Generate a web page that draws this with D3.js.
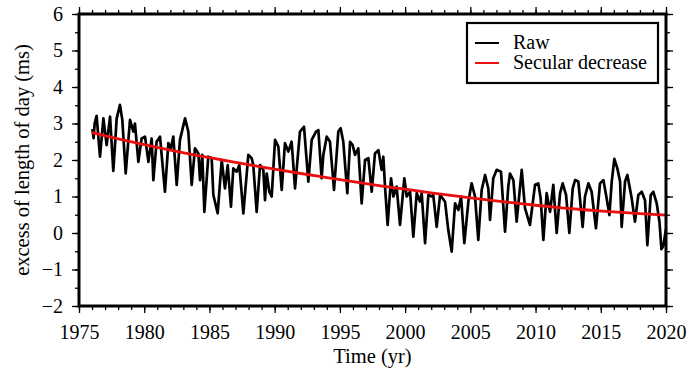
<!DOCTYPE html>
<html>
<head>
<meta charset="utf-8">
<script src="https://cdn.jsdelivr.net/npm/d3@7"></script>
<style>
  body { margin: 0; background: #fff; }
  svg text { font-family: "Liberation Serif", "Times New Roman", serif; }
</style>
</head>
<body>
<script>
//Width and height
var w = 692;
var h = 377;
var margin = {top: 14, right: 26, bottom: 71, left: 79};

//Raw excess LOD (ms)
var rawYear = [
  1976.02, 1976.12, 1976.20, 1976.35, 1976.61, 1976.87, 1977.12, 1977.38, 1977.63, 1977.89,
  1978.14, 1978.32, 1978.58, 1978.91, 1979.17, 1979.29, 1979.55, 1979.80, 1980.06, 1980.32,
  1980.57, 1980.70, 1980.95, 1981.21, 1981.59, 1981.85, 1982.05, 1982.23, 1982.49, 1982.74,
  1983.13, 1983.38, 1983.64, 1983.89, 1984.15, 1984.28, 1984.45, 1984.61, 1984.91, 1985.17,
  1985.30, 1985.63, 1985.94, 1986.19, 1986.40, 1986.65, 1986.83, 1987.09, 1987.29, 1987.60,
  1987.98, 1988.24, 1988.36, 1988.62, 1988.88, 1989.13, 1989.26, 1989.39, 1989.59, 1989.77,
  1990.03, 1990.28, 1990.54, 1990.79, 1991.05, 1991.30, 1991.56, 1991.94, 1992.25, 1992.58,
  1992.84, 1993.17, 1993.35, 1993.60, 1993.73, 1993.99, 1994.24, 1994.55, 1994.88, 1995.06,
  1995.26, 1995.57, 1995.78, 1995.98, 1996.16, 1996.41, 1996.67, 1996.93, 1997.18, 1997.44,
  1997.69, 1997.95, 1998.20, 1998.33, 1998.46, 1998.66, 1998.92, 1999.10, 1999.35, 1999.61,
  1999.94, 2000.12, 2000.38, 2000.63, 2000.89, 2001.14, 2001.27, 2001.53, 2001.78, 2002.04,
  2002.16, 2002.42, 2002.68, 2003.06, 2003.31, 2003.57, 2003.83, 2004.08, 2004.29, 2004.54,
  2004.85, 2005.10, 2005.36, 2005.61, 2005.87, 2006.13, 2006.38, 2006.51, 2006.76, 2007.02,
  2007.35, 2007.66, 2007.91, 2008.04, 2008.30, 2008.55, 2008.94, 2009.19, 2009.57, 2009.96,
  2010.21, 2010.39, 2010.60, 2010.85, 2011.11, 2011.36, 2011.62, 2011.88, 2012.08, 2012.34,
  2012.59, 2012.85, 2013.03, 2013.28, 2013.61, 2013.79, 2014.05, 2014.30, 2014.63, 2014.94,
  2015.20, 2015.45, 2015.66, 2015.84, 2016.04, 2016.27, 2016.48, 2016.60, 2016.86, 2017.04,
  2017.37, 2017.62, 2017.88, 2018.14, 2018.39, 2018.57, 2018.83, 2019.03, 2019.29, 2019.50,
  2019.65, 2019.80, 2019.99
];
var rawLod = [
  2.85, 2.60, 3.00, 3.21, 2.09, 3.14, 2.41, 3.19, 1.70, 3.14,
  3.51, 3.10, 1.63, 3.10, 2.78, 3.00, 1.95, 2.59, 2.64, 1.95,
  2.59, 1.45, 2.50, 2.64, 1.13, 2.46, 2.32, 2.64, 1.32, 2.55,
  3.14, 2.78, 1.32, 2.32, 2.18, 1.45, 2.14, 0.58, 2.09, 2.05,
  1.04, 0.54, 2.00, 1.22, 1.86, 0.72, 1.77, 1.68, 1.86, 0.54,
  2.14, 2.05, 1.86, 0.58, 1.86, 1.73, 0.90, 1.63, 1.13, 1.00,
  2.55, 2.37, 1.18, 2.46, 2.23, 2.50, 1.22, 2.78, 2.91, 1.41,
  2.55, 2.78, 2.82, 1.50, 2.14, 2.64, 2.50, 1.18, 2.78, 2.87,
  2.50, 1.09, 2.50, 2.41, 2.14, 2.32, 0.81, 2.00, 2.05, 1.13,
  2.18, 2.27, 1.73, 2.09, 1.27, 0.22, 1.50, 1.00, 1.27, 0.22,
  1.50, 1.00, 1.13, -0.10, 1.09, 0.86, 1.09, -0.28, 1.04, 1.00,
  1.04, 0.17, 1.04, 0.86, 0.08, -0.51, 0.81, 0.63, 1.00, -0.28,
  0.86, 1.36, 1.00, -0.19, 1.18, 1.59, 1.22, 0.36, 1.50, 1.73,
  1.68, 0.04, 1.27, 1.63, 1.45, 0.31, 1.73, 0.68, 0.22, 1.32,
  1.36, 0.95, -0.19, 1.09, 0.58, 1.32, 0.00, 1.09, 1.36, 1.04,
  0.00, 1.22, 1.45, 1.41, 0.17, 1.00, 1.36, 1.13, 0.13, 1.36,
  1.45, 0.95, 0.49, 1.41, 2.03, 1.77, 1.41, 0.17, 1.41, 1.59,
  0.95, 0.31, 1.04, 1.13, 0.90, -0.33, 1.04, 1.13, 0.81, 0.30,
  -0.44, -0.35, 0.10
];

//Secular decrease curve
var secYear = [1976, 1978, 1980, 1982, 1984, 1986, 1988, 1990, 1992, 1994, 1996, 1998,
               2000, 2002, 2004, 2006, 2008, 2010, 2012, 2014, 2016, 2018, 2020];
var secLod  = [2.75, 2.58, 2.42, 2.27, 2.13, 2.00, 1.87, 1.75, 1.63, 1.52, 1.41, 1.30,
               1.20, 1.10, 1.01, 0.92, 0.84, 0.76, 0.69, 0.63, 0.58, 0.53, 0.49];

//Tick values
var xMajor = [1975, 1980, 1985, 1990, 1995, 2000, 2005, 2010, 2015, 2020];
var yMajor = [-2, -1, 0, 1, 2, 3, 4, 5, 6];

var legendNames = ["Raw", "Secular decrease"];
var legendColors = ["black", "#e8100f"];

var raw = rawYear.map(function(t, i) { return {t: t, v: rawLod[i]}; });
var sec = secYear.map(function(t, i) { return {t: t, v: secLod[i]}; });

var xScale = d3.scaleLinear()
  .domain([1975, 2020])
  .range([margin.left, w - margin.right]);

var yScale = d3.scaleLinear()
  .domain([-2, 6])
  .range([h - margin.bottom, margin.top]);

var xMinor = d3.range(1975, 2021, 1);
var yMinor = d3.range(-2, 6.01, 0.5);

var plotB = h - margin.bottom, plotT = margin.top;
var plotL = margin.left, plotR = w - margin.right;

//Create SVG element
var svg = d3.select("body")
  .append("svg")
  .attr("width", w)
  .attr("height", h);

//Data lines
var line = d3.line()
  .x(function(d) { return xScale(d.t); })
  .y(function(d) { return yScale(d.v); });

svg.append("path")
  .datum(raw)
  .attr("fill", "none")
  .attr("stroke", "black")
  .attr("stroke-width", 2.7)
  .attr("stroke-linejoin", "round")
  .attr("d", line);

svg.append("path")
  .datum(sec)
  .attr("fill", "none")
  .attr("stroke", legendColors[1])
  .attr("stroke-width", 2.8)
  .attr("d", line.curve(d3.curveMonotoneX));

//Axes: minor ticks then major ticks, on all four sides
function styleAxis(g) {
  g.attr("font-family", "Liberation Serif").attr("font-size", 20);
  g.select(".domain").remove();
  g.selectAll(".tick line").attr("stroke-width", 1.3);
  g.selectAll("text").attr("fill", "black");
}

svg.append("g").attr("transform", "translate(0," + plotB + ")")
  .call(d3.axisBottom(xScale).tickValues(xMinor).tickSize(4).tickFormat(""))
  .call(styleAxis);
svg.append("g").attr("transform", "translate(0," + plotB + ")")
  .call(d3.axisBottom(xScale).tickValues(xMajor).tickSize(7).tickPadding(12).tickFormat(d3.format("d")))
  .call(styleAxis);

svg.append("g").attr("transform", "translate(0," + plotT + ")")
  .call(d3.axisTop(xScale).tickValues(xMinor).tickSize(4).tickFormat(""))
  .call(styleAxis);
svg.append("g").attr("transform", "translate(0," + plotT + ")")
  .call(d3.axisTop(xScale).tickValues(xMajor).tickSize(7).tickFormat(""))
  .call(styleAxis);

svg.append("g").attr("transform", "translate(" + plotL + ",0)")
  .call(d3.axisLeft(yScale).tickValues(yMinor).tickSize(4).tickFormat(""))
  .call(styleAxis);
svg.append("g").attr("transform", "translate(" + plotL + ",0)")
  .call(d3.axisLeft(yScale).tickValues(yMajor).tickSize(7).tickPadding(9))
  .call(styleAxis);

svg.append("g").attr("transform", "translate(" + plotR + ",0)")
  .call(d3.axisRight(yScale).tickValues(yMinor).tickSize(4).tickFormat(""))
  .call(styleAxis);
svg.append("g").attr("transform", "translate(" + plotR + ",0)")
  .call(d3.axisRight(yScale).tickValues(yMajor).tickSize(7).tickFormat(""))
  .call(styleAxis);

//Frame
svg.append("rect")
  .attr("x", plotL)
  .attr("y", plotT)
  .attr("width", plotR - plotL)
  .attr("height", plotB - plotT)
  .attr("fill", "none")
  .attr("stroke", "black")
  .attr("stroke-width", 3);

//Axis titles
svg.append("text")
  .attr("x", (plotL + plotR) / 2)
  .attr("y", 363)
  .attr("text-anchor", "middle")
  .attr("font-size", 20.5)
  .text("Time (yr)");

svg.append("text")
  .attr("transform", "translate(29," + ((plotT + plotB) / 2) + ") rotate(-90)")
  .attr("text-anchor", "middle")
  .attr("font-size", 20.5)
  .text("excess of length of day (ms)");

//Legend
var legend = svg.append("g");
legend.append("rect")
  .attr("x", 467)
  .attr("y", 23)
  .attr("width", 191)
  .attr("height", 60)
  .attr("fill", "white")
  .attr("stroke", "black")
  .attr("stroke-width", 2.2);

legend.selectAll("line")
  .data(legendNames)
  .enter()
  .append("line")
  .attr("x1", 475)
  .attr("x2", 499)
  .attr("y1", function(d, i) { return 43 + i * 20; })
  .attr("y2", function(d, i) { return 43 + i * 20; })
  .attr("stroke", function(d, i) { return legendColors[i]; })
  .attr("stroke-width", 2);

legend.selectAll("text")
  .data(legendNames)
  .enter()
  .append("text")
  .attr("x", 513)
  .attr("y", function(d, i) { return 49 + i * 20; })
  .attr("font-size", 20)
  .text(function(d) { return d; });
</script>
</body>
</html>
